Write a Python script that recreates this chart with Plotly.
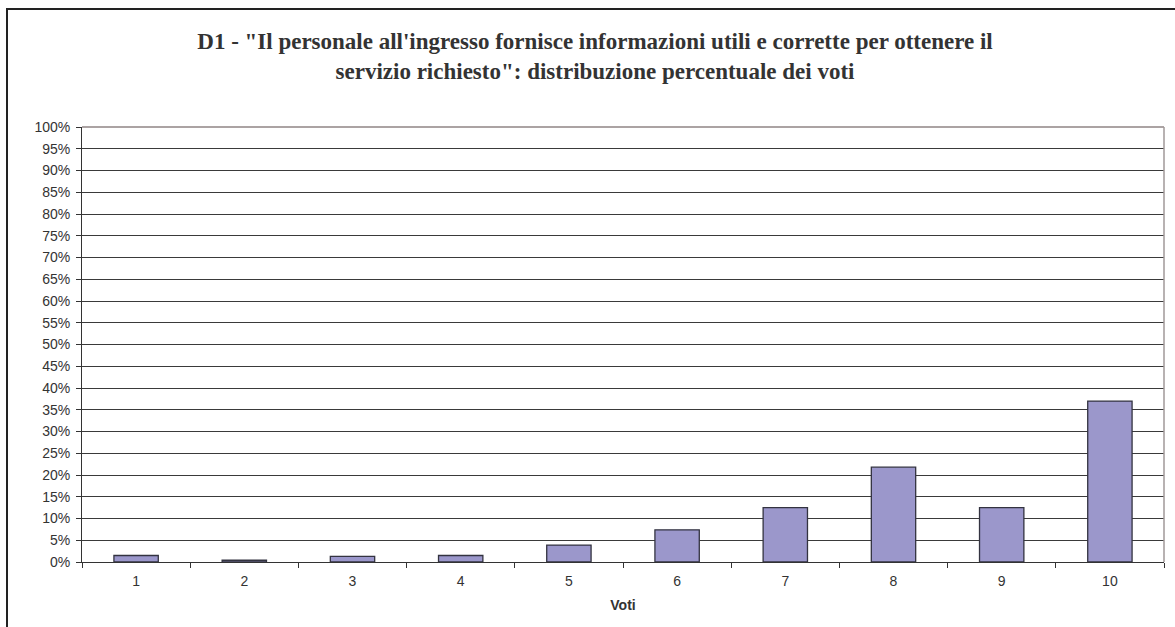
import plotly.graph_objects as go

# Vote distribution (percent of respondents per score)
voti = ["1", "2", "3", "4", "5", "6", "7", "8", "9", "10"]
percentuali = [1.5, 0.4, 1.3, 1.5, 3.9, 7.4, 12.5, 21.8, 12.5, 37.0]

y_ticks = list(range(0, 101, 5))
y_tick_labels = [f"{v}%" for v in y_ticks]

titolo = ("<b>D1 - \"Il personale all'ingresso fornisce informazioni utili e corrette per ottenere il<br>"
          "servizio richiesto\": distribuzione percentuale dei voti</b>")

fig = go.Figure(
    go.Bar(
        x=voti,
        y=percentuali,
        marker=dict(color="#9b97cb", line=dict(color="#333340", width=1.3)),
        width=0.41,
        hoverinfo="x+y",
    )
)

W, H = 1175, 627
L, R, T, B = 82, 11, 127, 65

fig.update_layout(
    width=W,
    height=H,
    margin=dict(l=L, r=R, t=T, b=B),
    paper_bgcolor="white",
    plot_bgcolor="white",
    showlegend=False,
    font=dict(family="Liberation Sans, Arial, sans-serif", size=14, color="#333333"),
    title=dict(
        text=titolo,
        x=595 / W,
        xanchor="center",
        y=1 - 49 / H,
        yanchor="top",
        font=dict(family="Liberation Serif, Times New Roman, serif", size=23, color="#333333"),
    ),
    xaxis=dict(
        type="category",
        tickson="boundaries",
        ticks="outside",
        ticklen=5,
        tickcolor="#333333",
        showline=True,
        linecolor="#333333",
        linewidth=1,
        showgrid=False,
        mirror=False,
        ticklabelstandoff=6,
        tickfont=dict(size=14, color="#333333"),
        title=dict(text="<b>Voti</b>", font=dict(size=14, color="#333333"), standoff=12),
    ),
    yaxis=dict(
        range=[0, 100],
        tickvals=y_ticks,
        ticktext=y_tick_labels,
        ticks="outside",
        ticklen=5,
        tickcolor="#333333",
        showline=True,
        linecolor="#333333",
        linewidth=1,
        showgrid=True,
        gridcolor="#3a3a3a",
        gridwidth=1,
        zeroline=False,
        ticklabelstandoff=3,
        tickfont=dict(size=14, color="#333333"),
    ),
    shapes=[
        # grey frame on top and right of the plot area
        dict(type="line", xref="paper", yref="paper", x0=0, x1=1, y0=1, y1=1,
             line=dict(color="#8f8585", width=1.5)),
        dict(type="line", xref="paper", yref="paper", x0=1, x1=1, y0=0, y1=1,
             line=dict(color="#a09898", width=1.5)),
        # outer chart border
        dict(type="rect", xref="paper", yref="paper",
             x0=(7 - L) / (W - L - R), x1=1.05,
             y0=-0.3, y1=(H - B - 9) / (H - T - B),
             line=dict(color="#222222", width=2), fillcolor="rgba(0,0,0,0)", layer="above"),
    ],
)

fig.write_html("out.html")
